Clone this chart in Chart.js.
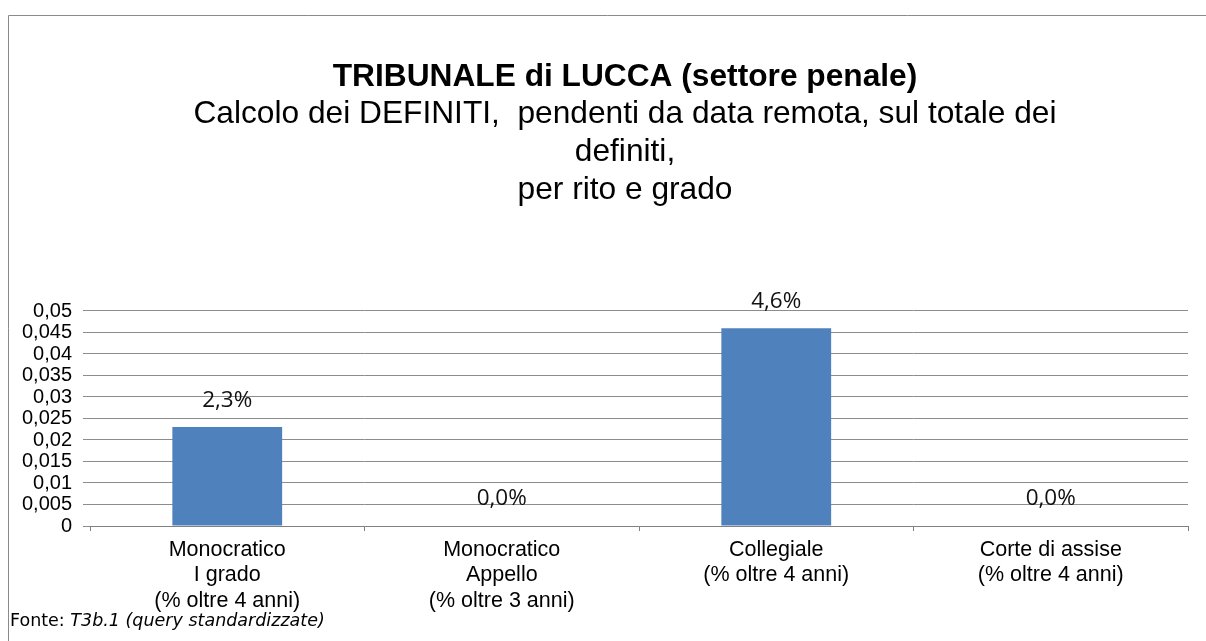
<!DOCTYPE html>
<html>
<head>
<meta charset="utf-8">
<script src="https://cdn.jsdelivr.net/npm/chart.js@4"></script>
<style>
  html, body { margin: 0; padding: 0; background: #ffffff; }
  #wrap { width: 1206px; height: 641px; position: relative; }
</style>
</head>
<body>
<div id="wrap"><canvas id="c" width="1206" height="641"></canvas></div>
<script>
// ---- Data ----
const categories = [
  ["Monocratico", "I grado", "(% oltre 4 anni)"],
  ["Monocratico", "Appello", "(% oltre 3 anni)"],
  ["Collegiale", "(% oltre 4 anni)"],
  ["Corte di assise", "(% oltre 4 anni)"]
];
const values = [0.023, 0.0, 0.046, 0.0];
const yTicks = [0, 0.005, 0.01, 0.015, 0.02, 0.025, 0.03, 0.035, 0.04, 0.045, 0.05];
const titleText = "TRIBUNALE di LUCCA (settore penale)";
const subtitleLines = [
  "Calcolo dei DEFINITI,  pendenti da data remota, sul totale dei",
  "definiti,",
  "per rito e grado"
];
const sourcePrefix = "Fonte: ";
const sourceItalic = "T3b.1 (query standardizzate)";

const fmtTick = v => {
  const r = Math.round(v * 1000) / 1000;
  return String(r).replace('.', ',');
};
const fmtPct = v => (v * 100).toFixed(1).replace('.', ',') + '%';

const framePlugin = {
  id: 'frame',
  afterLayout(chart) {
    // shift the title blocks so they are centred like the original (centre ~x=625)
    chart.boxes.forEach(b => {
      if (!b.axis && b.options && typeof b.options.text !== 'undefined') {
        b.left += 62;
      }
    });
  },
  beforeDraw(chart) {
    const ctx = chart.ctx;
    ctx.save();
    ctx.fillStyle = '#ffffff';
    ctx.fillRect(0, 0, chart.width, chart.height);
    ctx.strokeStyle = '#8a8a8a';
    ctx.lineWidth = 1;
    ctx.beginPath();
    ctx.moveTo(8.5, 660);
    ctx.lineTo(8.5, 15.5);
    ctx.lineTo(1210, 15.5);
    ctx.stroke();
    ctx.restore();
  },
  afterDraw(chart) {
    const ctx = chart.ctx;
    ctx.save();
    ctx.fillStyle = '#000000';
    ctx.textBaseline = 'middle';
    ctx.textAlign = 'left';
    ctx.font = '17.5px "DejaVu Sans"';
    ctx.fillText(sourcePrefix, 10, 621);
    const w = ctx.measureText(sourcePrefix).width;
    ctx.font = 'italic 17.5px "DejaVu Sans"';
    ctx.fillText(sourceItalic, 10 + w, 621);
    ctx.restore();
  }
};

const labelPlugin = {
  id: 'barLabels',
  afterDatasetsDraw(chart) {
    const ctx = chart.ctx;
    const meta = chart.getDatasetMeta(0);
    ctx.save();
    ctx.fillStyle = '#111111';
    ctx.font = '22.5px "Open Sans"';
    ctx.textAlign = 'center';
    ctx.textBaseline = 'middle';
    meta.data.forEach((bar, i) => {
      ctx.fillText(fmtPct(values[i]), bar.x, bar.y - 27);
    });
    ctx.restore();
  }
};

new Chart(document.getElementById('c'), {
  type: 'bar',
  data: {
    labels: categories,
    datasets: [{
      data: values,
      backgroundColor: '#4F81BD',
      borderWidth: 0,
      barPercentage: 0.8,
      categoryPercentage: 0.5
    }]
  },
  options: {
    responsive: false,
    animation: false,
    layout: { padding: { left: 0, right: 18, top: 0, bottom: 0 } },
    plugins: {
      legend: { display: false },
      tooltip: { enabled: false },
      title: {
        display: true,
        text: titleText,
        color: '#000000',
        font: { family: '"Liberation Sans", Arial', size: 31.7, weight: 'bold', lineHeight: 1.1 },
        padding: { top: 60, bottom: 0 }
      },
      subtitle: {
        display: true,
        text: subtitleLines,
        color: '#000000',
        font: { family: '"Liberation Sans", Arial', size: 31.7, weight: 'normal', lineHeight: 1.2 },
        padding: { top: 0, bottom: 102 }
      }
    },
    scales: {
      x: {
        afterFit(scale) { scale.height = 115; },
        grid: {
          display: true,
          offset: true,
          drawOnChartArea: false,
          drawTicks: true,
          tickLength: 5,
          color: '#808080'
        },
        border: { display: true, color: '#808080', width: 1 },
        ticks: {
          color: '#000000',
          padding: 6,
          maxRotation: 0,
          autoSkip: false,
          font: { family: '"Liberation Sans", Arial', size: 21.5, lineHeight: 1.19 }
        }
      },
      y: {
        min: 0,
        max: 0.05,
        afterFit(scale) { scale.width = 90; },
        afterBuildTicks(scale) { scale.ticks = yTicks.map(v => ({ value: v })); },
        grid: {
          color: '#8c8c8c',
          drawTicks: true,
          tickLength: 7,
          lineWidth: 1
        },
        border: { display: false },
        ticks: {
          color: '#000000',
          padding: 11,
          autoSkip: false,
          callback: v => fmtTick(v),
          font: { family: '"Liberation Sans", Arial', size: 20, lineHeight: 1.0 }
        }
      }
    }
  },
  plugins: [framePlugin, labelPlugin]
});
</script>
</body>
</html>
